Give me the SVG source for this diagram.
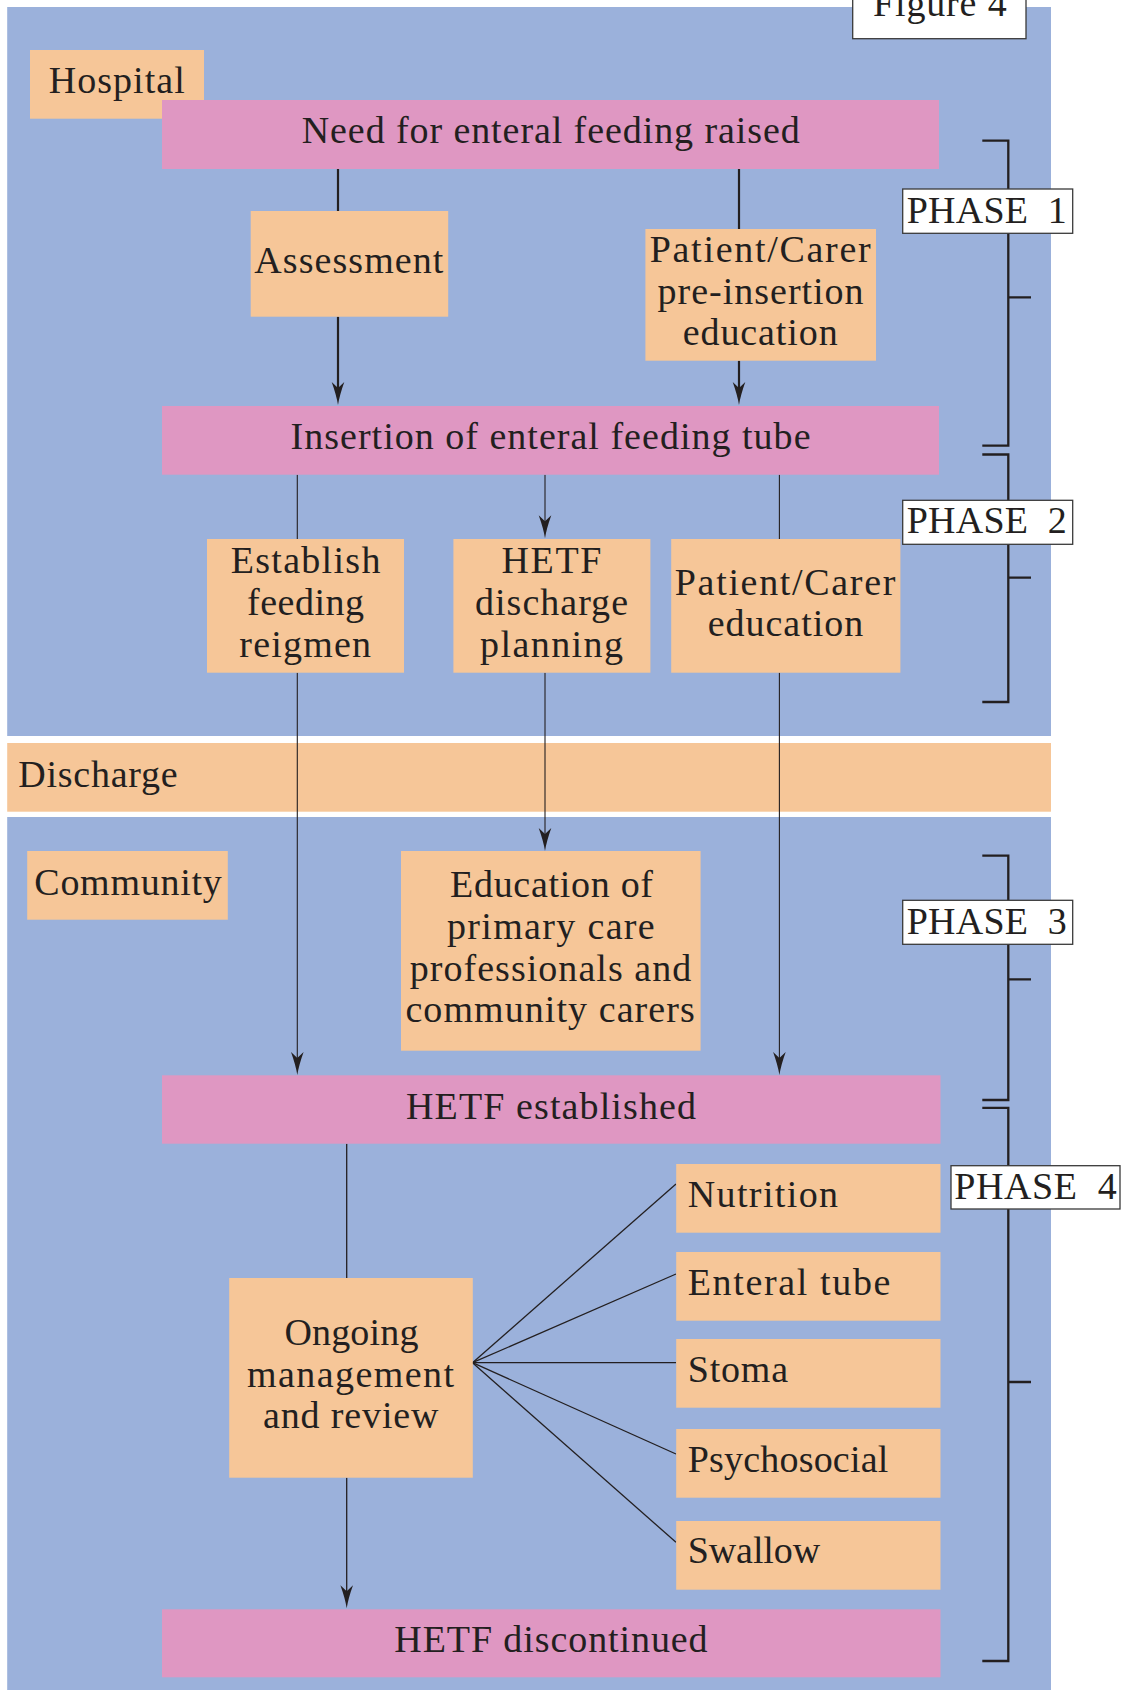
<svg xmlns="http://www.w3.org/2000/svg" width="1123" height="1690" viewBox="0 0 1123 1690">
<style>
.bg{fill:#9BB1DB}
.pk{fill:#DF97C2}
.pc{fill:#F6C698}
.wb{fill:#FFFFFF;stroke:#3A3A3A;stroke-width:1.3}
text{font-family:"Liberation Serif","Times New Roman",serif;font-size:38px;fill:#231F20}
.thick{stroke:#231F20;stroke-width:2.2;fill:none}
.thin{stroke:#231F20;stroke-width:1.1;fill:none}
.fan{stroke:#231F20;stroke-width:1.3;fill:none}
.br{stroke:#231F20;stroke-width:2.3;fill:none;stroke-linejoin:miter}
</style>
<defs>
<marker id="arr" markerUnits="userSpaceOnUse" viewBox="0 -7 24 14" markerWidth="24" markerHeight="14" refX="15" refY="0" orient="auto">
<path d="M0,-6.3 Q13,-1.6 23,0 Q13,1.6 0,6.3 L6,0 Z" fill="#231F20"/>
</marker>
</defs>
<rect x="0" y="0" width="1123" height="1690" fill="#FFFFFF"/>
<g id="panels">
<rect class="bg" x="7.2" y="7" width="1043.8" height="729"/>
<rect class="pc" x="7.2" y="743" width="1043.8" height="68.7"/>
<rect class="bg" x="7.2" y="817" width="1043.8" height="873"/>
</g>
<g id="figure-label">
<rect class="wb" x="852.7" y="-5" width="173.3" height="43.7"/>
<text x="873" y="16" textLength="133.7" lengthAdjust="spacing">Figure 4</text>
</g>
<g id="hospital"><rect class="pc" x="30" y="50" width="174" height="68.7"/><text x="48.7" y="93.4" textLength="136" lengthAdjust="spacing">Hospital</text></g>
<g id="discharge"><text x="18.3" y="786.5" textLength="159.4" lengthAdjust="spacing">Discharge</text></g>
<g id="community"><rect class="pc" x="27.2" y="851" width="200.6" height="68.7"/><text x="34.3" y="895" textLength="187.4" lengthAdjust="spacing">Community</text></g>

<g id="connectors">
<line class="thick" x1="338" y1="169" x2="338" y2="211"/>
<line class="thick" x1="338" y1="316.7" x2="338" y2="397" marker-end="url(#arr)"/>
<line class="thick" x1="739" y1="169" x2="739" y2="229"/>
<line class="thick" x1="739" y1="360.7" x2="739" y2="397" marker-end="url(#arr)"/>
<line class="thin" x1="297.3" y1="474.7" x2="297.3" y2="539"/>
<line class="thin" x1="545" y1="474.7" x2="545" y2="530.3" marker-end="url(#arr)"/>
<line class="thin" x1="779.4" y1="474.7" x2="779.4" y2="539"/>
<line class="thin" x1="297.3" y1="672.7" x2="297.3" y2="1067" marker-end="url(#arr)"/>
<line class="thin" x1="545" y1="672.7" x2="545" y2="843" marker-end="url(#arr)"/>
<line class="thin" x1="779.4" y1="672.7" x2="779.4" y2="1067" marker-end="url(#arr)"/>
<line class="fan" x1="346.7" y1="1143.7" x2="346.7" y2="1278"/>
<line class="fan" x1="346.7" y1="1477.7" x2="346.7" y2="1600.3" marker-end="url(#arr)"/>
<line class="fan" x1="472.5" y1="1362.7" x2="676" y2="1184"/>
<line class="fan" x1="472.5" y1="1362.7" x2="676" y2="1274"/>
<line class="fan" x1="472.5" y1="1362.7" x2="676" y2="1362.7"/>
<line class="fan" x1="472.5" y1="1362.7" x2="676" y2="1454"/>
<line class="fan" x1="472.5" y1="1362.7" x2="676" y2="1542.3"/>
</g>

<g id="need"><rect class="pk" x="162" y="100" width="777" height="69"/><text x="301.7" y="143.3" textLength="498" lengthAdjust="spacing">Need for enteral feeding raised</text></g>
<g id="assessment"><rect class="pc" x="250.7" y="211" width="197.5" height="105.7"/><text x="254.3" y="272.5" textLength="189" lengthAdjust="spacing">Assessment</text></g>
<g id="pre-insertion"><rect class="pc" x="645.4" y="229" width="230.6" height="131.7"/>
<text x="649.7" y="262" textLength="221" lengthAdjust="spacing">Patient/Carer</text>
<text x="657.6" y="303.5" textLength="206" lengthAdjust="spacing">pre-insertion</text>
<text x="682.7" y="345" textLength="155" lengthAdjust="spacing">education</text></g>
<g id="insertion"><rect class="pk" x="162" y="406" width="777" height="68.7"/><text x="290.5" y="448.8" textLength="520" lengthAdjust="spacing">Insertion of enteral feeding tube</text></g>
<g id="establish"><rect class="pc" x="207" y="539" width="197" height="133.7"/>
<text x="230.7" y="573.3" textLength="149.7" lengthAdjust="spacing">Establish</text>
<text x="247" y="615" textLength="117" lengthAdjust="spacing">feeding</text>
<text x="239.3" y="656.5" textLength="131.8" lengthAdjust="spacing">reigmen</text></g>
<g id="discharge-planning"><rect class="pc" x="453.4" y="539" width="197" height="133.7"/>
<text x="501.4" y="573.3" textLength="100" lengthAdjust="spacing">HETF</text>
<text x="475" y="615" textLength="153" lengthAdjust="spacing">discharge</text>
<text x="480" y="656.5" textLength="143" lengthAdjust="spacing">planning</text></g>
<g id="carer-education"><rect class="pc" x="671.2" y="539" width="229.2" height="133.7"/>
<text x="674.8" y="594.5" textLength="220.6" lengthAdjust="spacing">Patient/Carer</text>
<text x="707.7" y="636.2" textLength="155.5" lengthAdjust="spacing">education</text></g>
<g id="primary-care"><rect class="pc" x="401" y="851" width="299.6" height="199.7"/>
<text x="450" y="897.3" textLength="203" lengthAdjust="spacing">Education of</text>
<text x="447" y="939" textLength="207.7" lengthAdjust="spacing">primary care</text>
<text x="409.7" y="980.8" textLength="281.5" lengthAdjust="spacing">professionals and</text>
<text x="405.4" y="1022.3" textLength="289.4" lengthAdjust="spacing">community carers</text></g>
<g id="established"><rect class="pk" x="162" y="1075.3" width="778.5" height="68.4"/><text x="406" y="1118.5" textLength="290" lengthAdjust="spacing">HETF established</text></g>
<g id="ongoing"><rect class="pc" x="229.2" y="1278" width="243.6" height="199.7"/>
<text x="284.4" y="1345" textLength="134" lengthAdjust="spacing">Ongoing</text>
<text x="247" y="1386.7" textLength="207" lengthAdjust="spacing">management</text>
<text x="263" y="1428.3" textLength="175.5" lengthAdjust="spacing">and review</text></g>
<g id="nutrition"><rect class="pc" x="676.2" y="1164" width="264.3" height="68.7"/><text x="687.7" y="1207.3" textLength="150.4" lengthAdjust="spacing">Nutrition</text></g>
<g id="enteral-tube"><rect class="pc" x="676.2" y="1252" width="264.3" height="68.7"/><text x="687.7" y="1295" textLength="202.7" lengthAdjust="spacing">Enteral tube</text></g>
<g id="stoma"><rect class="pc" x="676.2" y="1339" width="264.3" height="68.7"/><text x="687.7" y="1382.3" textLength="100.3" lengthAdjust="spacing">Stoma</text></g>
<g id="psychosocial"><rect class="pc" x="676.2" y="1429" width="264.3" height="68.7"/><text x="687.7" y="1471.8" textLength="200.6" lengthAdjust="spacing">Psychosocial</text></g>
<g id="swallow"><rect class="pc" x="676.2" y="1521" width="264.3" height="68.7"/><text x="687.7" y="1563.3" textLength="132.5" lengthAdjust="spacing">Swallow</text></g>
<g id="discontinued"><rect class="pk" x="162" y="1609.3" width="778.5" height="68"/><text x="394.3" y="1651.7" textLength="313.3" lengthAdjust="spacing">HETF discontinued</text></g>

<g id="phase1">
<path class="br" d="M982.3,140.7 H1008.3 V445.7 H982.3 M1008.3,297.3 H1031"/>
<rect class="wb" x="902.7" y="189" width="170" height="44.3"/>
<text x="906.7" y="222.7" textLength="160" lengthAdjust="spacing" xml:space="preserve">PHASE  1</text>
</g>
<g id="phase2">
<path class="br" d="M982.3,454.5 H1008.3 V702 H982.3 M1008.3,577.7 H1031"/>
<rect class="wb" x="902.7" y="500.3" width="170" height="44"/>
<text x="906.7" y="533.3" textLength="160" lengthAdjust="spacing" xml:space="preserve">PHASE  2</text>
</g>
<g id="phase3">
<path class="br" d="M982.3,855.7 H1008.3 V1100 H982.3 M1008.3,979.3 H1031"/>
<rect class="wb" x="902.7" y="900.3" width="170" height="44"/>
<text x="906.7" y="933.7" textLength="160" lengthAdjust="spacing" xml:space="preserve">PHASE  3</text>
</g>
<g id="phase4">
<path class="br" d="M982.3,1107.8 H1008.3 V1661 H982.3 M1008.3,1382 H1031"/>
<rect class="wb" x="951" y="1165.7" width="169" height="43.3"/>
<text x="954.3" y="1198.7" textLength="162.4" lengthAdjust="spacing" xml:space="preserve">PHASE  4</text>
</g>
</svg>
